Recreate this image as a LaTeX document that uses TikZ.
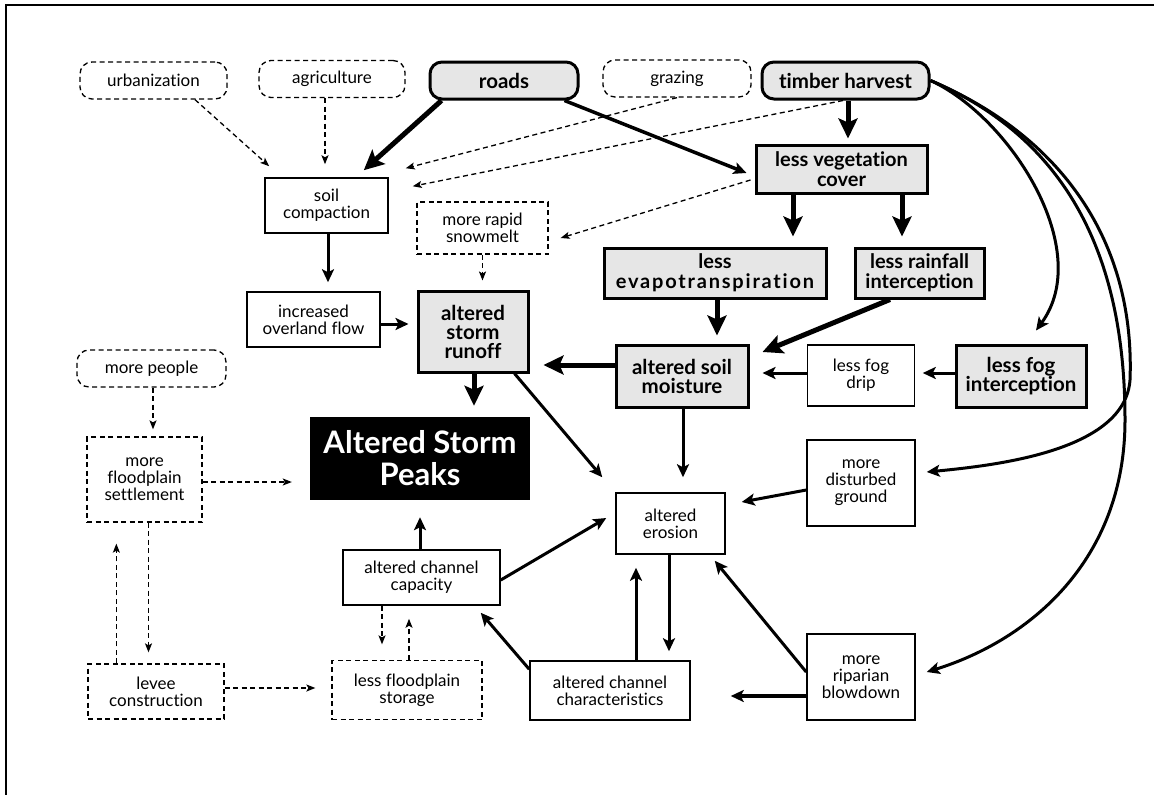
\documentclass[tikz,border=0pt]{standalone}
\usepackage{fontspec}
\setmainfont{Lato}[Ligatures=NoCommon]
\usetikzlibrary{arrows.meta,calc}
\definecolor{gfill}{RGB}{230,230,230}
\lineskiplimit=-100pt
\lineskip=0pt
\begin{document}
\begin{tikzpicture}[x=1pt,y=-1pt,
  nb/.style={draw, line width=1.5pt, fill=white, align=center, inner sep=0pt, font=\fontsize{17}{17}\selectfont},
  gb/.style={nb, line width=3pt, fill=gfill, font=\fontsize{20.5}{19}\selectfont\bfseries},
  db/.style={nb, line width=1.3pt, dash pattern=on 5pt off 3.5pt},
  rd/.style={rounded corners=12pt},
  a1/.style={line width=3pt, -{Stealth[length=13pt,width=12pt,inset=3pt]}},
  a2/.style={line width=5pt, -{Stealth[length=20pt,width=19pt,inset=4pt]}},
  ad/.style={line width=1.3pt, dash pattern=on 5pt off 3.5pt, -{Stealth[length=9pt,width=7pt,inset=2pt]}}]
\useasboundingbox (0,0) rectangle (1154,795);
\draw[line width=2pt] (6,795) -- (6,5) -- (1154,5);

% top row
\node[db,rd,minimum width=147pt,minimum height=37pt] (urb) at (153.5,80.5) {urbanization};
\node[db,rd,minimum width=146pt,minimum height=37pt] (agri) at (332,79) {agriculture};
\node[gb,rd,minimum width=148pt,minimum height=37pt] (roads) at (504,80.5) {roads};
\node[db,rd,minimum width=148pt,minimum height=37pt] (grazing) at (677,78.5) {grazing};
\node[gb,rd,minimum width=167pt,minimum height=37pt] (timber) at (845.5,80.5) {timber harvest};

\node[nb,minimum width=123pt,minimum height=55pt] (soil) at (326.5,205.5) {soil\\compaction};
\node[gb,minimum width=171pt,minimum height=48pt,font=\fontsize{20}{19.5}\selectfont\bfseries] (lessveg) at (841.5,169) {less vegetation\\cover};
\node[db,minimum width=131pt,minimum height=52pt] (snow) at (482.5,228) {more rapid\\snowmelt};
\node[nb,minimum width=133pt,minimum height=55pt] (over) at (313.5,319.5) {increased\\overland flow};
\node[gb,minimum width=110pt,minimum height=81pt] (runoff) at (473,331.5) {altered\\storm\\runoff};
\node[gb,minimum width=222pt,minimum height=50pt,font=\fontsize{20}{20}\selectfont\bfseries] (evap) at (715,273) {less\\{\addfontfeatures{LetterSpace=9}evapotranspiration}};
\node[gb,minimum width=129pt,minimum height=50pt,font=\fontsize{20}{20}\selectfont\bfseries] (rain) at (919.5,273) {less rainfall\\interception};
\node[gb,minimum width=132pt,minimum height=62pt] (moist) at (682,376) {altered soil\\moisture};
\node[nb,minimum width=107pt,minimum height=61pt] (fogdrip) at (861,375.5) {less fog\\drip};
\node[gb,minimum width=130pt,minimum height=62pt] (fogint) at (1021,376) {less fog\\interception};
\node[db,rd,minimum width=149pt,minimum height=37pt] (people) at (151.5,368.5) {more people};
\node[fill=black,text=white,align=center,inner sep=0pt,minimum width=220pt,minimum height=83pt,font=\fontsize{31}{32}\selectfont\bfseries] (peaks) at (420,458.5) {Altered Storm\\Peaks};
\node[db,minimum width=115pt,minimum height=85pt] (settle) at (144.5,479.5) {more\\floodplain\\settlement};
\node[nb,minimum width=109pt,minimum height=61pt] (eros) at (670.5,523.5) {altered\\erosion};
\node[nb,minimum width=108pt,minimum height=86pt] (dist) at (861,483) {more\\disturbed\\ground};
\node[nb,minimum width=157pt,minimum height=55pt] (cap) at (421.5,577.5) {altered channel\\capacity};
\node[db,minimum width=136pt,minimum height=55pt] (levee) at (156,691.5) {levee\\construction};
\node[db,minimum width=150pt,minimum height=59pt] (stor) at (407,690) {less floodplain\\storage};
\node[nb,minimum width=160pt,minimum height=59pt] (char) at (610,690.5) {altered channel\\characteristics};
\node[nb,minimum width=108pt,minimum height=86pt] (rip) at (861,677) {more\\riparian\\blowdown};

% connectors
\draw[ad] ([shift={(41.5,0)}]urb.south) -- ([shift={(5,-11)}]soil.north west);
\draw[ad] ([shift={(-7,0)}]agri.south) -- ([shift={(-1.5,-13)}]soil.north);
\draw[a2] ([shift={(13,0)}]roads.south west) -- ([shift={(-25,-7)}]soil.north east);
\draw[a1,line width=3.5pt] ([shift={(-15,0)}]roads.south east) -- ([shift={(-8,4)}]lessveg.west);
\draw[ad] (grazing.south) -- ([shift={(17,-9)}]soil.north east);
\draw[ad] ([shift={(-2.5,0)}]timber.south) -- ([shift={(24,9)}]soil.north east);
\draw[ad] ([shift={(-4,11)}]lessveg.west) -- ([shift={(12,10)}]snow.east);
\draw[a2] ([shift={(2.5,0)}]timber.south) -- ([shift={(6.5,-5)}]lessveg.north);
\draw[a2] ([shift={(-48.5,0)}]lessveg.south) -- ([shift={(78,-10)}]evap.north);
\draw[a2] ([shift={(60.5,0)}]lessveg.south) -- ([shift={(-17.5,-10)}]rain.north);
\draw[a2] ([shift={(2,0)}]evap.south) -- ([shift={(35,-8)}]moist.north);
\draw[a2] ([shift={(-29.5,0)}]rain.south) -- ([shift={(13,-24)}]moist.east);
\draw[a2] ([shift={(0,-11)}]moist.west) -- ([shift={(14,33.5)}]runoff.east);
\draw[a1] ([shift={(0,-2.5)}]fogdrip.west) -- ([shift={(13,-3)}]moist.east);
\draw[a1] ([shift={(0,-3)}]fogint.west) -- ([shift={(7.5,-2.5)}]fogdrip.east);
\draw[a1] ([shift={(1,0)}]moist.south) -- ([shift={(12.5,-15)}]eros.north);
\draw[a1] ([shift={(1.5,0)}]soil.south) -- ([shift={(14.5,-9)}]over.north);
\draw[ad] (snow.south) -- ([shift={(9.5,-9)}]runoff.north);
\draw[a1] ([shift={(0,4.5)}]over.east) -- ([shift={(-8,-7.5)}]runoff.west);
\draw[a2] ([shift={(1,0)}]runoff.south) -- ([shift={(54,-11)}]peaks.north);
\draw[a1] ([shift={(-15,0)}]runoff.south east) -- ([shift={(-13,-15)}]eros.north west);
\draw[ad] ([shift={(1.5,0)}]people.south) -- ([shift={(8.5,-7)}]settle.north);
\draw[ad] ([shift={(0,2.5)}]settle.east) -- ([shift={(-18,23.5)}]peaks.west);
\draw[ad] ([shift={(29,0)}]levee.north west) -- ([shift={(30,21)}]settle.south west);
\draw[ad] ([shift={(4,0)}]settle.south) -- ([shift={(-7.5,-11)}]levee.north);
\draw[ad] ([shift={(0,-3.5)}]levee.east) -- ([shift={(-16,-2)}]stor.west);
\draw[ad] ([shift={(-39.5,0)}]cap.south) -- ([shift={(-25,-15.5)}]stor.north);
\draw[ad] ([shift={(2,0)}]stor.north) -- ([shift={(-12.5,13)}]cap.south);
\draw[a1] ([shift={(-1.5,0)}]cap.north) -- ([shift={(0,17)}]peaks.south);
\draw[a1] ([shift={(0,2.5)}]cap.east) -- ([shift={(-9,-5.5)}]eros.west);
\draw[a1] ([shift={(0,9)}]char.north west) -- ([shift={(-20,7)}]cap.south east);
\draw[a1] ([shift={(26,0)}]char.north) -- ([shift={(-34.5,13)}]eros.south);
\draw[a1] ([shift={(-1.5,0)}]eros.south) -- ([shift={(59,-9)}]char.north);
\draw[a1] ([shift={(0,7)}]dist.west) -- ([shift={(16,-21.5)}]eros.east);
\draw[a1] ([shift={(0,-5)}]rip.west) -- ([shift={(-11,6)}]eros.south east);
\draw[a1,line width=4pt] ([shift={(0,19)}]rip.west) -- ([shift={(40,5.5)}]char.east);

% curved connectors from timber harvest
\coordinate (bendD) at (1130,380);
\coordinate (bendR) at (1125,420);
\draw[a1] (timber.east) .. controls (1010,117) and (1095,250) .. ([shift={(15,-13)}]fogint.north);
\draw[a1] (timber.east) .. controls (1070,140) and (1135,250) .. (bendD) .. controls (1125,450) and (1000,465) .. ([shift={(11,-11)}]dist.east);
\draw[a1] (timber.east) .. controls (1070,140) and (1125,260) .. (bendR) .. controls (1125,560) and (1030,640) .. ([shift={(11,-5)}]rip.east);
\end{tikzpicture}
\end{document}
